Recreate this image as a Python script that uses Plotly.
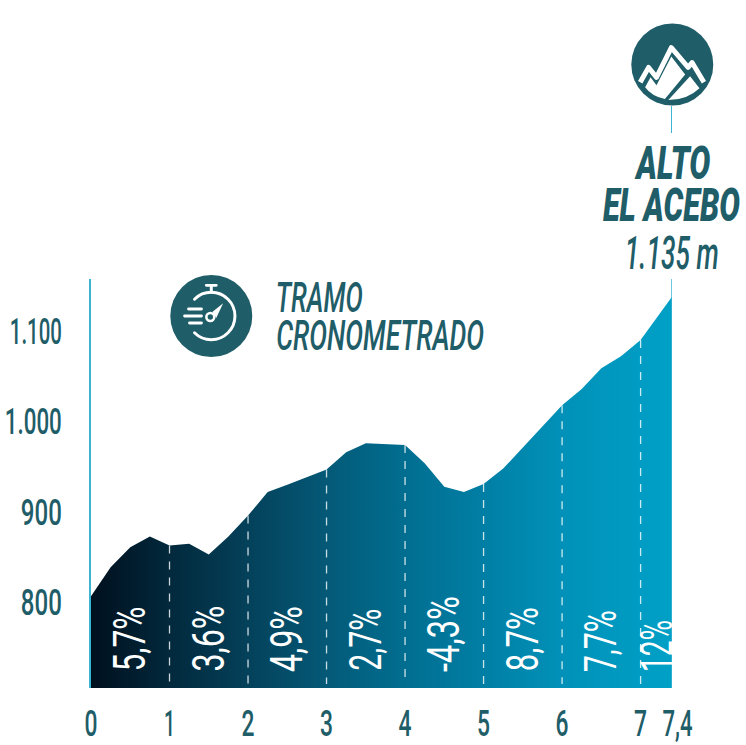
import base64
import json
import plotly.graph_objects as go

# profile (km, metres)
km = [0, 0.25, 0.5, 0.75, 1, 1.25, 1.5, 1.75, 2, 2.25, 2.5, 3, 3.25, 3.5, 4, 4.25, 4.5, 4.75, 5, 5.25, 6, 6.25, 6.5, 6.75, 7, 7.4]
elev = [807, 839, 861, 873, 863, 865, 853, 873, 896, 922, 930, 947, 966, 976, 974, 954, 928, 922, 931, 948, 1018, 1036, 1059, 1072, 1090, 1138]

km_marks = [1, 2, 3, 4, 5, 6, 7]
km_tops = [863, 896, 947, 974, 931, 1018, 1090]

pct_km = [0.5, 1.5, 2.5, 3.5, 4.5, 5.5, 6.5, 7.2]
pct_labels = ["5,7%", "3,6%", "4,9%", "2,7%", "-4,3%", "8,7%", "7,7%", "12%"]
pct_mid_px = [639, 639, 639, 640, 634, 639.5, 641, 645.5]

x_ticks = [0, 1, 2, 3, 4, 5, 6, 7, 7.4]
x_labels = ["0", "1", "2", "3", "4", "5", "6", "7", "\u00a0\u00a07,4"]
y_ticks = [800, 900, 1000, 1100]
y_labels = ["800", "900", "1.000", "1.100"]

TEAL = "#1f5d68"
CYAN = "#3db4d4"
FONT = "Roboto"

# plot area in window pixels
L, R, T, B = 90.7, 671.7, 279.0, 688.0

# width each text takes in the picture, the fonts here are all too wide
text_widths = {
    "0": 13, "1": 11, "2": 13, "3": 13, "4": 13, "5": 13, "6": 13, "7": 13, "\u00a0\u00a07,4": 41,
    "800": 41, "900": 41, "1.000": 57, "1.100": 52,
    "5,7%": 65, "3,6%": 66, "4,9%": 66, "2,7%": 62, "-4,3%": 76, "8,7%": 64, "7,7%": 62, "12%": 52,
    "ALTO": 74, "EL ACEBO": 137, "1.135 m": 94, "TRAMO": 87, "CRONOMETRADO": 208,
}


def px(x):
    return (x - L) / (R - L)


def py(y):
    return (B - y) / (B - T)


def svg_image(body, size=84):
    svg = f'<svg xmlns="http://www.w3.org/2000/svg" viewBox="0 0 {size} {size}">{body}</svg>'
    return "data:image/svg+xml;base64," + base64.b64encode(svg.encode()).decode()


mountain = f"""
<circle cx="42" cy="42" r="41.5" fill="{TEAL}"/>
<path d="M14.5 65 L20 55 L26 63 L41 34 L55 52 L34.5 77 Q21 74 14.5 65 Z" fill="white"/>
<path d="M38 78 L60 54 L69.5 66 Q57 78 38 78 Z" fill="white"/>
<path d="M9.5 60 L18 45 L26 55 L41 25 L58 45 L62 40 L74 60" fill="none" stroke="white" stroke-width="5" stroke-linejoin="round"/>
"""

watch = f"""
<circle cx="42" cy="42" r="41.5" fill="{TEAL}"/>
<g fill="none" stroke="white" stroke-width="3" stroke-linecap="round">
<path d="M25 25 A24 24 0 1 1 25 59"/>
<path d="M37 11 H47 M42 12 V18"/>
<path d="M19 35 H32 M15 42 H32 M20 49 H32"/>
</g>
<circle cx="41" cy="43" r="4" fill="none" stroke="white" stroke-width="2.6"/>
<path d="M43 38 L54 29 L47 44 Z" fill="white"/>
"""

fig = go.Figure()

fig.add_trace(go.Scatter(
    x=km, y=elev, mode="lines", line=dict(width=0),
    fill="tozeroy",
    fillgradient=dict(type="horizontal", colorscale=[
        [0, "#00101e"], [0.27, "#04415a"], [0.41, "#045a78"], [0.54, "#016e90"],
        [0.68, "#017fa5"], [0.81, "#0191b8"], [1, "#00a0c7"]]),
    hoverinfo="skip", showlegend=False))

# dashed km marks
dash_x, dash_y = [], []
for m, top in zip(km_marks, km_tops):
    dash_x += [m, m, None]
    dash_y += [top, 710, None]
fig.add_trace(go.Scatter(
    x=dash_x, y=dash_y, mode="lines",
    line=dict(color="rgba(255,255,255,0.8)", width=1.3, dash="8px,8px"),
    hoverinfo="skip", showlegend=False))

annotations = []
for k, label, mid in zip(pct_km, pct_labels, pct_mid_px):
    annotations.append(dict(
        x=k, xref="x", y=py(mid), yref="paper", text=label, textangle=-90,
        showarrow=False, xanchor="center", yanchor="middle",
        font=dict(family=FONT, size=44, color="white")))

titles = [
    ("ALTO", 671.5, 162, 47, 900),
    ("EL ACEBO", 671.5, 205, 47, 900),
    ("1.135 m", 672, 252, 47, 500),
    ("TRAMO", 319.5, 297, 43, 500),
    ("CRONOMETRADO", 379.5, 335, 43, 500),
]
for text, tx, ty, size, weight in titles:
    annotations.append(dict(
        x=px(tx), xref="paper", y=py(ty), yref="paper", text=text, showarrow=False,
        xanchor="center", yanchor="middle",
        font=dict(family=FONT, size=size, color=TEAL, style="italic", weight=weight)))

shapes = [
    dict(type="line", xref="x", x0=7.4, x1=7.4, yref="paper", y0=py(106), y1=py(133),
         line=dict(color=CYAN, width=2)),
    dict(type="line", xref="x", x0=7.4, x1=7.4, yref="paper", y0=py(279), y1=py(688),
         line=dict(color=CYAN, width=1.5)),
]

images = [
    dict(source=svg_image(mountain), xref="paper", yref="paper", x=px(630.5), y=py(23),
         sizex=83 / (R - L), sizey=83 / (B - T), sizing="stretch", xanchor="left", yanchor="top", layer="above"),
    dict(source=svg_image(watch), xref="paper", yref="paper", x=px(169.5), y=py(274.5),
         sizex=83 / (R - L), sizey=83 / (B - T), sizing="stretch", xanchor="left", yanchor="top", layer="above"),
]

tick_font = dict(family=FONT, size=36, color=TEAL, weight=500)
fig.update_layout(
    width=746, height=745,
    margin=dict(l=L, r=746 - R, t=T, b=745 - B),
    paper_bgcolor="white", plot_bgcolor="white",
    annotations=annotations, shapes=shapes, images=images,
    xaxis=dict(range=[0, 7.4], tickvals=x_ticks, ticktext=x_labels, showgrid=False, zeroline=False,
               automargin=False, ticks="", ticklabelstandoff=11, tickangle=0, tickfont=tick_font),
    yaxis=dict(range=[705.5, 1157.5], tickvals=y_ticks, ticktext=y_labels, showgrid=False, zeroline=False,
               automargin=False, ticks="", ticklabelstandoff=20, showline=True, linecolor=CYAN, linewidth=2,
               tickfont=tick_font),
)

# no condensed font is installed, so squeeze the texts to their width in the picture
squeeze = """
document.body.style.margin = '0';
var widths = %s;
document.getElementById('{plot_id}').querySelectorAll('.xtick text, .ytick text, .annotation-text').forEach(function (t) {
    var w = widths[t.textContent];
    if (w) {
        t.setAttribute('textLength', w);
        t.setAttribute('lengthAdjust', 'spacingAndGlyphs');
    }
});
""" % json.dumps(text_widths)

fig.write_html("out.html", post_script=squeeze, config=dict(displayModeBar=False))
